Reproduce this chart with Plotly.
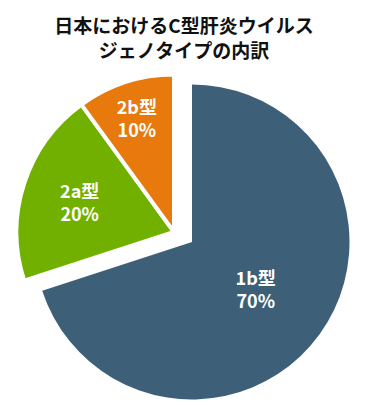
import plotly.graph_objects as go

labels = ["1b型", "2a型", "2b型"]
values = [70, 20, 10]
colors = ["#3e5f78", "#72b000", "#e8790c"]
title_lines = ["日本におけるC型肝炎ウイルス", "ジェノタイプの内訳"]

W, H = 368, 406
OFF = 8  # page body margin offset
FONT = "Noto Sans CJK JP"


def dom(cx, cy, r):
    cx -= OFF
    cy -= OFF
    return dict(x=[(cx - r) / W, (cx + r) / W],
                y=[(H - (cy + r)) / H, (H - (cy - r)) / H])


def texts(show):
    return [f"{l}<br>{v}%" if s else "" for l, v, s in zip(labels, values, show)]


def cols(show):
    return [c if s else "rgba(0,0,0,0)" for c, s in zip(colors, show)]


show_a = [True, False, False]
show_b = [False, True, True]

fig = go.Figure()
for show, (cx, cy), lw in [(show_a, (192, 242), 0), (show_b, (174, 232), 4)]:
    fig.add_trace(go.Pie(
        labels=labels, values=values, sort=False, direction="clockwise", rotation=0,
        text=texts(show), textinfo="text",
        textposition=["inside" if s else "none" for s in show],
        insidetextorientation="horizontal",
        marker=dict(colors=cols(show),
                    line=dict(color=["white" if s else "rgba(0,0,0,0)" for s in show], width=lw)),
        textfont=dict(family=FONT, size=18, color="white", weight="bold"),
        domain=dom(cx, cy, 157.5), hoverinfo="skip", showlegend=False,
    ))

fig.update_layout(
    width=W, height=H, margin=dict(l=0, r=0, t=0, b=0),
    paper_bgcolor="white", plot_bgcolor="white",
    title=dict(text="<br>".join(title_lines), x=(184 - OFF) / W, xanchor="center",
               y=1 - (33 - OFF) / H, yanchor="middle", yref="container", xref="container",
               font=dict(family=FONT, size=19, color="#111111", weight="bold")),
    showlegend=False,
)

fig.write_html("out.html")
